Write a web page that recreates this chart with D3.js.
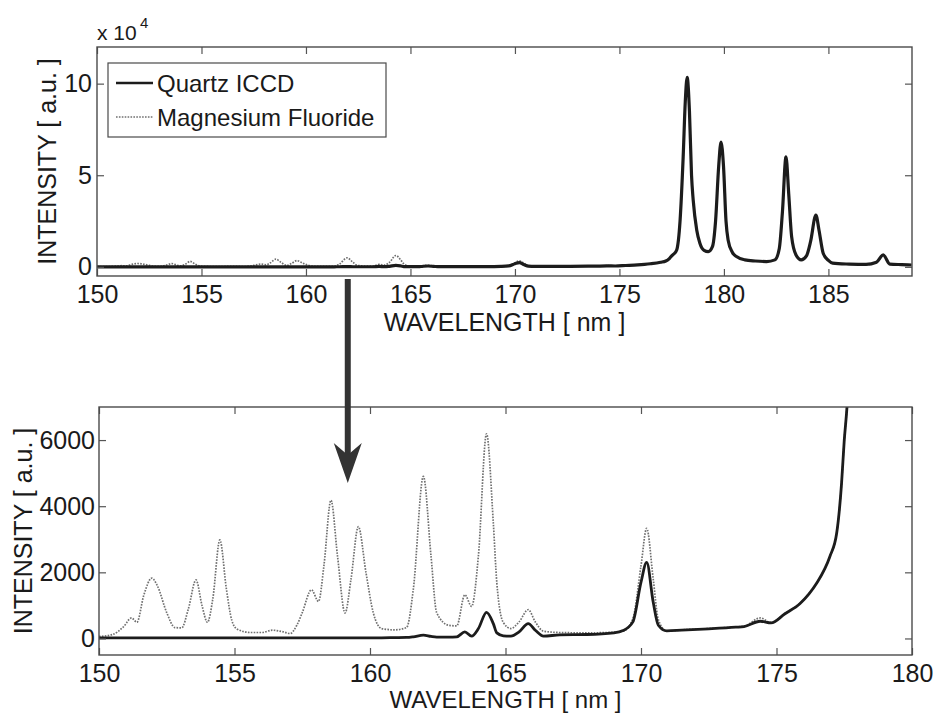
<!DOCTYPE html>
<html><head><meta charset="utf-8">
<script src="https://cdn.jsdelivr.net/npm/d3@7"></script>
<style>
body{margin:0;background:#fff}
svg{display:block}
text{font-family:"Liberation Sans",Arial,Helvetica,sans-serif;fill:#1a1a1a}
</style>
</head><body>
<svg id="c" width="933" height="714"></svg>
<script>
// ---- data (wavelength in nm, intensity in a.u.) ----
const wavelength = [150.0,150.5,150.9,151.2,151.4,151.65,151.95,152.15,152.5,152.8,
153.05,153.3,153.58,153.8,154.0,154.2,154.46,154.7,154.9,155.1,
155.6,156.0,156.4,156.8,157.05,157.3,157.5,157.84,158.1,158.3,
158.56,158.8,159.08,159.3,159.57,159.85,160.12,160.43,160.9,161.35,
161.6,161.97,162.25,162.46,162.9,163.2,163.5,163.75,164.0,164.3,
164.55,164.68,164.92,165.2,165.5,165.84,166.1,166.4,167.0,168.0,
169.0,169.34,169.7,170.0,170.21,170.45,170.64,170.95,171.5,172.5,
173.5,173.8,174.4,174.8,175.3,175.87,176.2,176.48,176.97,177.22,
177.4,177.5,177.6,177.74,177.9,178.05,178.15,178.24,178.35,178.45,
178.53,178.7,178.85,179.05,179.25,179.45,179.6,179.75,179.86,179.98,
180.1,180.2,180.4,180.6,181.0,181.5,182.04,182.44,182.65,182.8,
182.97,183.1,183.24,183.45,183.7,183.95,184.15,184.4,184.55,184.75,
185.0,185.2,186.0,186.8,187.3,187.62,187.94,188.5,188.98];

const magnesiumFluoride = [60,120,350,620,490,1300,1825,1600,780,330,
320,900,1770,1000,490,1200,2980,1500,550,280,
180,180,250,200,150,400,780,1470,1120,2200,
4180,2500,770,1800,3380,2000,780,300,260,330,
1500,4900,2500,780,400,380,1320,970,2500,6190,
3500,1680,480,300,500,870,500,220,180,170,
190,220,600,2200,3330,1800,570,220,260,300,
350,370,620,480,750,1070,1350,1670,2480,3180,
4680,5990,6990,9200,25000,60000,90000,103400,85000,50000,
36400,20000,12900,9000,8300,11000,25000,55000,68100,55000,
25000,14700,8000,5600,3800,3200,2900,3800,10000,30000,
60000,40000,16500,6500,3800,6000,14000,28300,20000,7400,
3500,2000,1500,1300,2500,6500,1500,1200,1000];

const quartzICCD = [20,20,20,20,20,20,20,20,20,20,
20,20,20,20,20,20,20,20,20,20,
20,20,20,20,20,20,20,20,20,20,
20,20,20,20,20,20,20,20,25,30,
50,100,60,40,40,50,200,70,300,790,
450,170,80,70,200,450,250,70,110,120,
170,240,500,1700,2300,1100,400,230,250,290,
340,360,520,470,740,1060,1350,1670,2480,3180,
4680,5990,6990,9200,25000,60000,90000,103400,85000,50000,
36400,20000,12900,9000,8300,11000,25000,55000,68100,55000,
25000,14700,8000,5600,3800,3200,2900,3800,10000,30000,
60000,40000,16500,6500,3800,6000,14000,28300,20000,7400,
3500,2000,1500,1300,2500,6500,1500,1200,1000];

const seriesNames = ["Quartz ICCD", "Magnesium Fluoride"];
const topXTicks = [150,155,160,165,170,175,180,185];
const topYTicks = [0,5,10];
const bottomXTicks = [150,155,160,165,170,175,180];
const bottomYTicks = [0,2000,4000,6000];
const xLabel = "WAVELENGTH [ nm ]";
const yLabel = "INTENSITY [ a.u. ]";

// ---- drawing ----
const svg = d3.select("#c");
const FS = 25;
const frameColor = "#4a4a4a";

function panel(o) {
  const x = d3.scaleLinear().domain(o.xDomain).range([o.left, o.right]);
  const y = d3.scaleLinear().domain(o.yDomain).range([o.bottom, o.top]);
  const g = svg.append("g");
  const clipId = "clip" + o.id;
  svg.append("clipPath").attr("id", clipId).append("rect")
    .attr("x", o.left).attr("y", o.top)
    .attr("width", o.right - o.left).attr("height", o.bottom - o.top);

  const pts = wavelength.map((w, i) => ({w, m: magnesiumFluoride[i] / o.div, q: quartzICCD[i] / o.div}));
  const lineM = d3.line().x(d => x(d.w)).y(d => y(d.m)).curve(d3.curveMonotoneX);
  const lineQ = d3.line().x(d => x(d.w)).y(d => y(d.q)).curve(d3.curveMonotoneX);
  const lg = g.append("g").attr("clip-path", `url(#${clipId})`);
  lg.append("path").attr("d", lineM(pts)).attr("fill", "none")
    .attr("stroke", "#707070").attr("stroke-width", 1.7).attr("stroke-dasharray", "1.6,1.3");
  lg.append("path").attr("d", lineQ(pts)).attr("fill", "none")
    .attr("stroke", "#1c1c1c").attr("stroke-width", o.qWidth).attr("stroke-linejoin", "round");

  const style = sel => {
    sel.select(".domain").remove();
    sel.selectAll(".tick line").attr("stroke", "#555").attr("stroke-width", 1.2);
    sel.selectAll("text").style("font-size", FS + "px").attr("fill", "#1a1a1a")
      .style("font-family", '"Liberation Sans",Arial,sans-serif');
  };
  g.append("g").attr("transform", `translate(0,${o.bottom})`)
    .call(d3.axisBottom(x).tickValues(o.xTicks).tickSize(-7).tickPadding(o.xPad).tickFormat(d3.format("d"))).call(style);
  g.append("g").attr("transform", `translate(0,${o.top})`)
    .call(d3.axisTop(x).tickValues(o.xTicks).tickSize(-7).tickFormat("")).call(style);
  g.append("g").attr("transform", `translate(${o.left},0)`)
    .call(d3.axisLeft(y).tickValues(o.yTicks).tickSize(-7).tickPadding(o.yPad).tickFormat(d3.format("d"))).call(style);
  g.append("g").attr("transform", `translate(${o.right},0)`)
    .call(d3.axisRight(y).tickValues(o.yTicks).tickSize(-7).tickFormat("")).call(style);

  g.append("rect").attr("x", o.left).attr("y", o.top)
    .attr("width", o.right - o.left).attr("height", o.bottom - o.top)
    .attr("fill", "none").attr("stroke", frameColor).attr("stroke-width", 1.4);

  g.append("text").attr("x", (o.left + o.right) / 2).attr("y", o.xLabelY)
    .attr("text-anchor", "middle").style("font-size", o.xLabelFS + "px").text(xLabel);
  g.append("text").attr("transform", `translate(${o.yLabelX},${(o.top + o.bottom) / 2}) rotate(-90)`)
    .attr("text-anchor", "middle").style("font-size", FS + "px").text(yLabel);
  return {x, y};
}

const topP = panel({id: "t", left: 97, right: 912, top: 47, bottom: 276,
  xDomain: [150, 189], yDomain: [-0.5, 12], div: 1e4,
  xTicks: topXTicks, yTicks: topYTicks, xPad: 9, yPad: 5,
  xLabelY: 331, xLabelFS: 25, yLabelX: 56, qWidth: 3.2});

const botP = panel({id: "b", left: 99, right: 912, top: 407, bottom: 655,
  xDomain: [150, 180], yDomain: [-500, 7000], div: 1,
  xTicks: bottomXTicks, yTicks: bottomYTicks, xPad: 9, yPad: 4,
  xLabelY: 708, xLabelFS: 24, yLabelX: 32, qWidth: 2.8});

// exponent label
svg.append("text").attr("x", 97).attr("y", 40).style("font-size", "21px").text("x 10");
svg.append("text").attr("x", 140).attr("y", 28).style("font-size", "15px").text("4");

// legend
const leg = svg.append("g");
leg.append("rect").attr("x", 108).attr("y", 63).attr("width", 278).attr("height", 74)
  .attr("fill", "#fff").attr("stroke", frameColor).attr("stroke-width", 1.2);
const legRows = [
  {name: seriesNames[0], y: 83, stroke: "#1c1c1c", w: 2.6, dash: null},
  {name: seriesNames[1], y: 117, stroke: "#707070", w: 1.7, dash: "1.6,1.3"}
];
legRows.forEach(r => {
  leg.append("line").attr("x1", 116).attr("x2", 153).attr("y1", r.y).attr("y2", r.y)
    .attr("stroke", r.stroke).attr("stroke-width", r.w).attr("stroke-dasharray", r.dash);
  leg.append("text").attr("x", 157).attr("y", r.y + 8.5).style("font-size", "24px").text(r.name);
});

// arrow from top panel (162 nm) down into the zoomed panel
const ax = topP.x(162);
const y0 = 279, tipY = botP.y(4700);
svg.append("rect").attr("x", ax - 3).attr("y", y0).attr("width", 6).attr("height", tipY - 28 - y0)
  .attr("fill", "#333");
svg.append("path")
  .attr("d", `M${ax - 14},${tipY - 40} L${ax},${tipY} L${ax + 14},${tipY - 40} L${ax},${tipY - 28} Z`)
  .attr("fill", "#333");
</script>
</body></html>
